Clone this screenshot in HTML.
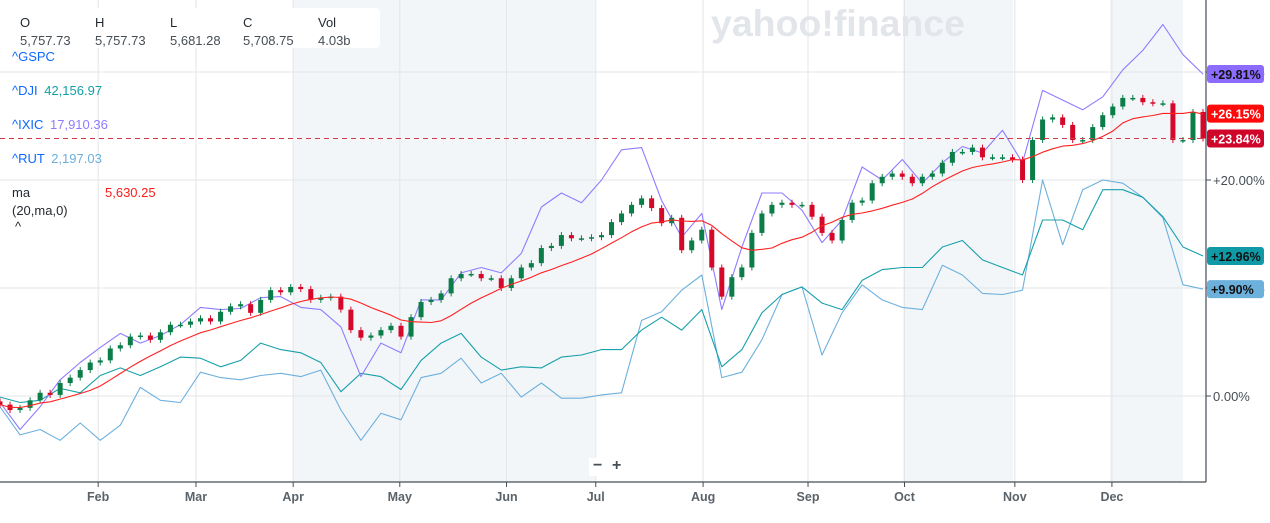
<!DOCTYPE html>
<html><head><meta charset="utf-8">
<style>
body{margin:0;background:#fff;width:1270px;height:523px;overflow:hidden;font-family:"Liberation Sans",sans-serif;}
svg{display:block}
</style></head>
<body>
<svg id="chart" width="1270" height="523" xmlns="http://www.w3.org/2000/svg"></svg>
<script>
// ----- data (percent change vs start) -----
const monthLabels = ["Feb","Mar","Apr","May","Jun","Jul","Aug","Sep","Oct","Nov","Dec"];
const monthPos = [0.0814,0.1625,0.2431,0.3315,0.4200,0.4940,0.5830,0.6700,0.7500,0.8415,0.9220];
const yTicks = [0, 10, 20, 30];
const yTickLabels = ["0.00%","+10.00%","+20.00%","+30.00%"];
const gspcClose = [-0.8,-1.3,-1.1,-0.4,0.3,0.1,1.2,1.7,2.4,3.1,3.3,4.4,4.7,5.5,5.6,5.2,5.9,6.6,6.6,6.9,7.2,6.9,7.8,8.3,8.5,7.7,8.9,9.8,9.6,10.1,9.9,8.9,9.1,9.2,8.0,6.1,5.4,5.6,6.1,6.5,
5.5,7.3,8.7,8.9,9.5,10.9,11.3,11.3,10.9,10.9,
10.0,10.9,11.9,12.3,13.7,13.9,14.9,14.6,14.6,14.7,
14.9,16.1,16.9,17.7,18.3,17.4,16.0,16.5,13.5,14.4,
15.4,11.9,9.2,11.0,11.9,15.1,16.9,17.7,17.9,17.7,
17.7,16.6,15.1,14.4,16.3,17.9,18.1,19.7,20.3,20.6,
20.3,19.7,20.3,20.6,21.6,22.6,22.6,23.0,22.1,22.1,
22.1,21.9,20.0,23.7,25.6,25.8,25.1,23.7,23.7,24.9,
26.0,26.8,27.6,27.6,27.2,27.1,27.1,23.7,23.7,26.3,23.84];
const ixic = [-0.6,-3.1,-1.0,1.5,3.1,4.5,5.8,4.9,5.6,6.6,8.2,8.0,8.1,9.1,9.2,8.2,8.0,6.4,1.8,4.9,4.0,8.9,8.9,11.4,11.9,11.4,13.2,17.5,18.8,17.9,20.0,22.8,23.0,18.1,14.7,16.9,8.0,13.8,18.8,18.8,17.2,14.2,16.3,21.2,20.0,21.9,19.7,21.6,23.1,22.5,24.6,21.6,28.3,27.4,26.5,27.7,30.2,32.0,34.4,31.6,29.81];
const dji = [-0.1,-0.6,-0.4,0.7,0.3,1.9,2.6,1.9,2.7,3.6,3.5,2.7,3.3,4.9,4.3,4.0,3.1,0.4,2.1,1.8,0.6,3.3,4.9,5.8,3.6,2.4,2.7,2.6,3.6,3.8,4.3,4.3,6.1,7.3,6.1,8.0,2.7,4.3,7.7,9.4,10.1,8.6,8.0,10.7,11.7,11.9,11.9,13.8,14.4,12.6,11.9,11.2,16.3,16.3,15.4,19.1,19.1,18.4,16.6,13.8,12.96];
const rut = [-1.0,-3.6,-3.1,-4.1,-2.5,-4.1,-2.7,0.8,-0.4,-0.6,2.2,1.7,1.5,1.9,2.1,1.8,2.4,-1.3,-4.1,-1.6,-2.2,1.7,2.1,3.5,1.2,2.1,-0.1,1.2,-0.2,-0.2,0.1,0.3,7.0,7.8,9.8,11.2,1.7,2.2,5.2,9.4,10.1,3.8,7.7,10.3,8.9,8.2,8.0,12.1,11.2,9.5,9.4,9.8,20.0,14.0,19.1,20.0,19.7,18.4,16.5,10.3,9.9];
const maPeriod = 10;
const lastPrice = 23.84;
const maLast = 26.15;

// ----- scales -----
const PL=0, PR=1206, PB=482, DATA_R=1203;
function yS(p){return 396 - p*10.8;}
function xIdx(i,n){return PL + i*(DATA_R-PL)/(n-1);}
const NS="http://www.w3.org/2000/svg";
const svg=document.getElementById('chart');
function mk(tag,attrs,parent){const e=document.createElementNS(NS,tag);for(const k in attrs)e.setAttribute(k,attrs[k]);(parent||svg).appendChild(e);return e;}

// shaded bands
[[293,595],[903,1013],[1110,1183]].forEach(b=>{
  const r=mk('rect',{x:b[0],y:0,width:b[1]-b[0],height:PB,fill:'#f3f6f9'});
  
  
});
// watermark
const wm=mk('text',{x:711,y:36,'font-size':37,'font-weight':'bold',fill:'#e2e5ea','font-family':'Liberation Sans, sans-serif',textLength:254,lengthAdjust:'spacingAndGlyphs'});
wm.textContent='yahoo!finance';



// grid
yTicks.forEach(t=>{
  const l=mk('line',{x1:0,x2:PR,y1:yS(t),y2:yS(t),stroke:'#e3e5e8','stroke-width':1});
  
  
});
monthPos.forEach((m,i)=>{
  const x=PL+m*(PR-PL);
  const l=mk('line',{x1:x,x2:x,y1:0,y2:PB,stroke:'#e3e5e8','stroke-width':1});
  
  
  const tk=mk('line',{x1:x,x2:x,y1:PB,y2:PB+5,stroke:'#464e56','stroke-width':1});
  
  
  const t=mk('text',{x:x,y:501,'text-anchor':'middle','font-size':12.5,'font-weight':'bold',fill:'#5b636a'});
  t.textContent=monthLabels[i];
  
  
});

// lines
function line(arr,color,name){
  const d=arr.map((v,i)=>(i?'L':'M')+xIdx(i,arr.length).toFixed(1)+' '+yS(v).toFixed(1)).join(' ');
  const p=mk('path',{d:d,fill:'none',stroke:color,'stroke-width':1.1,'stroke-linejoin':'round'});
  
  
}
line(rut,'#6cb0dc','rut-line');
line(dji,'#16a0aa','dji-line');
line(ixic,'#8f7cff','ixic-line');

// candles
gspcClose.forEach((c,i)=>{
  const o = i? gspcClose[i-1] : c+0.3;
  const x=xIdx(i,gspcClose.length);
  const up=c>=o;
  const col=up?'#0a7d48':'#d6082a';
  const top=yS(Math.max(o,c)), bot=yS(Math.min(o,c));
  const w=mk('line',{x1:x,x2:x,y1:top-3,y2:bot+3,stroke:col,'stroke-width':1});
  
  
  const r=mk('rect',{x:x-2.5,y:top,width:5,height:Math.max(1.5,bot-top),fill:col});
  
  
});

// moving average
const ma=gspcClose.map((v,i)=>{const s=Math.max(0,i-maPeriod+1);const w=gspcClose.slice(s,i+1);return w.reduce((a,b)=>a+b,0)/w.length;});
line(ma,'#ff2020','moving-average-line');

// last price dashed line
const dl=mk('line',{x1:0,x2:PR,y1:yS(lastPrice),y2:yS(lastPrice),stroke:'#d13a4a','stroke-width':1,'stroke-dasharray':'5,4'});



// axes
const ax=mk('line',{x1:PR,x2:PR,y1:0,y2:PB,stroke:'#464e56','stroke-width':1.2});


const bx=mk('line',{x1:0,x2:PR,y1:PB,y2:PB,stroke:'#464e56','stroke-width':1.2});


yTicks.forEach((t,i)=>{
  const tk=mk('line',{x1:PR,x2:PR+5,y1:yS(t),y2:yS(t),stroke:'#464e56'});
  
  
  const tx=mk('text',{x:PR+7,y:yS(t)+5,'font-size':13,fill:'#464e56'});
  tx.textContent=yTickLabels[i];
  
  
});

// badges
function badge(v,bg,fg,name){
  const y=yS(v);
  const g=mk('g',{});
  
  
  mk('rect',{x:PR+1,y:y-9,width:57,height:18,rx:3,fill:bg},g);
  const t=mk('text',{x:PR+5,y:y+5,'font-size':12.5,'font-weight':'bold',fill:fg},g);
  t.textContent='+'+v.toFixed(2)+'%';
}
badge(rut[rut.length-1],'#6cb0dc','#111','rut-value-badge');
badge(dji[dji.length-1],'#0f9aa6','#111','dji-value-badge');
badge(ixic[ixic.length-1],'#8c6cff','#111','ixic-value-badge');
badge(maLast,'#ff0a0a','#fff','ma-value-badge');
badge(lastPrice,'#d0052a','#fff','gspc-value-badge');
</script>

<div style="position:absolute;left:0;top:8px;width:380px;height:40px;background:#fff;border-radius:0 4px 4px 0;font-size:13px;color:#232a31;">
  <span style="position:absolute;left:20px;top:7px">O</span><span style="position:absolute;left:20px;top:25px;color:#464e56">5,757.73</span>
  <span style="position:absolute;left:95px;top:7px">H</span><span style="position:absolute;left:95px;top:25px;color:#464e56">5,757.73</span>
  <span style="position:absolute;left:170px;top:7px">L</span><span style="position:absolute;left:170px;top:25px;color:#464e56">5,681.28</span>
  <span style="position:absolute;left:243px;top:7px">C</span><span style="position:absolute;left:243px;top:25px;color:#464e56">5,708.75</span>
  <span style="position:absolute;left:318px;top:7px">Vol</span><span style="position:absolute;left:318px;top:25px;color:#464e56">4.03b</span>
</div>
<div style="position:absolute;left:12px;top:49px;font-size:13px;line-height:16px">
  <div style="color:#0f69ff">^GSPC</div>
  <div style="position:absolute;top:34px;white-space:nowrap;color:#0f69ff">^DJI <span style="color:#12a0aa;margin-left:3px">42,156.97</span></div>
  <div style="position:absolute;top:68px;white-space:nowrap;color:#0f69ff">^IXIC <span style="color:#8f7cff;margin-left:3px">17,910.36</span></div>
  <div style="position:absolute;top:102px;white-space:nowrap;color:#0f69ff">^RUT <span style="color:#6cb0dc;margin-left:3px">2,197.03</span></div>
  <div style="position:absolute;top:136px;white-space:nowrap;color:#232a31">ma<span style="position:absolute;left:93px;color:#ff1a1a">5,630.25</span></div>
  <div style="position:absolute;top:154px;white-space:nowrap;color:#232a31">(20,ma,0)</div>
  <div style="position:absolute;top:170px;left:3px;color:#232a31">^</div>
</div>
<div style="position:absolute;left:589px;top:458px;width:38px;height:18px;background:#fff;font-size:16px;font-weight:bold;color:#464e56;">
  <span style="position:absolute;left:4px;top:-1px">−</span>
  <span style="position:absolute;left:23px;top:-1px">+</span>
</div>
</body></html>
